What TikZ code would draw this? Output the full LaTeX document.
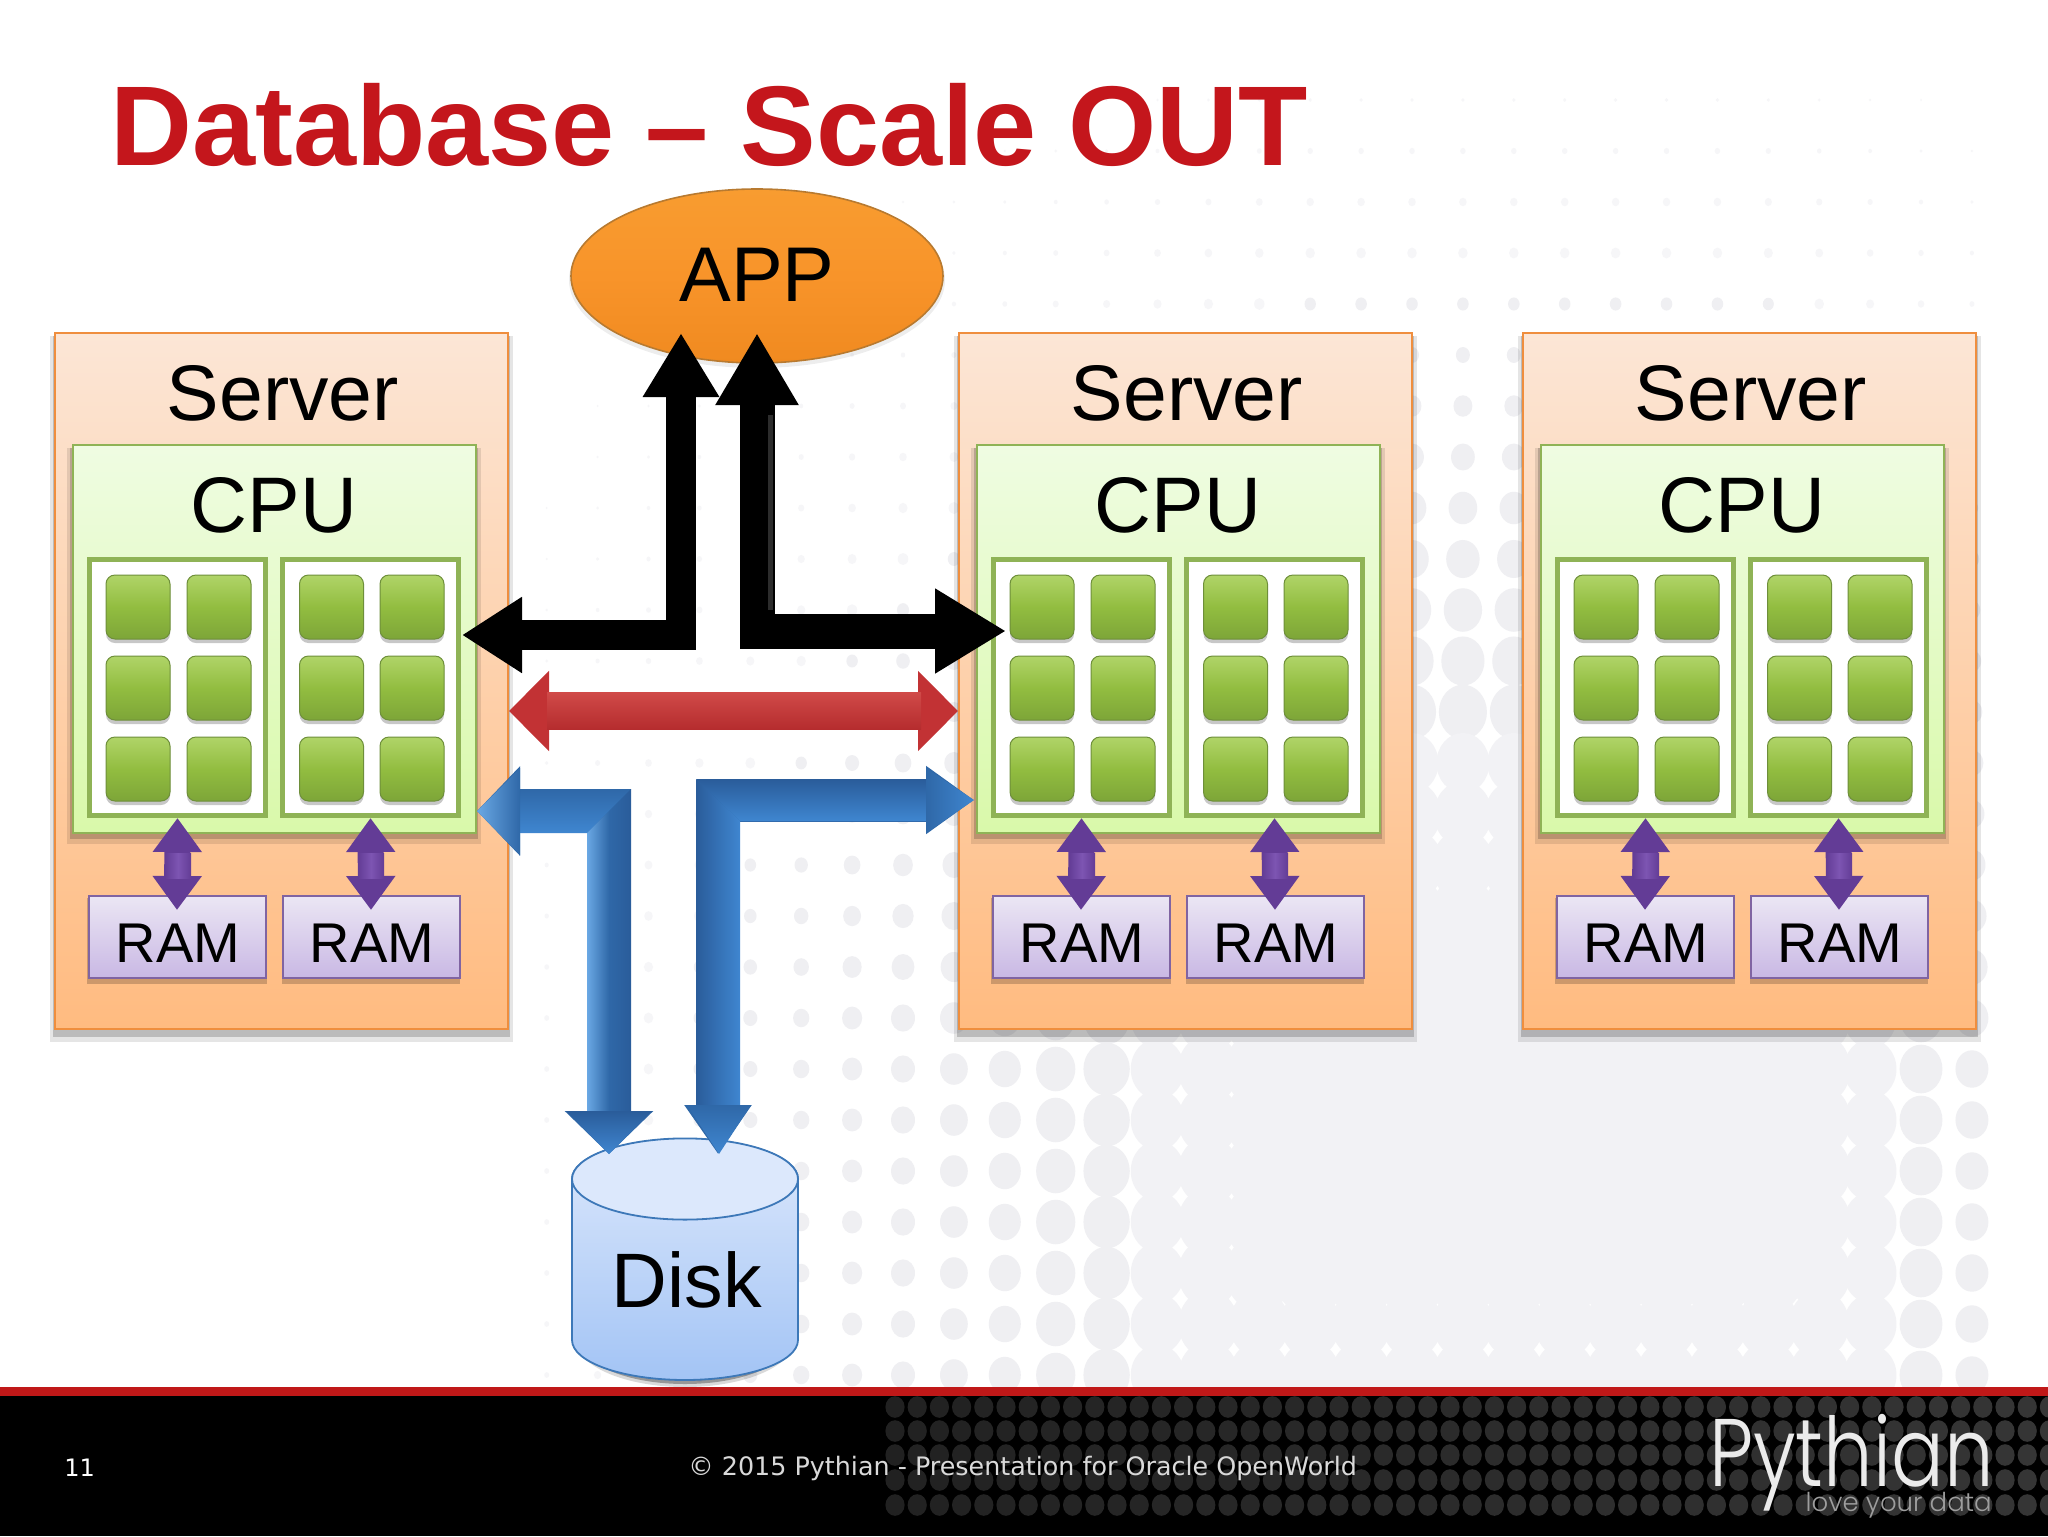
\documentclass[tikz,border=0pt]{standalone}
\usepackage{fontspec}
\usepackage{graphicx}
\setmainfont{Liberation Sans}
\newfontfamily\footfont{DejaVu Sans}
\newfontfamily\logofont{Poppins Light}
\usetikzlibrary{arrows.meta,shapes.geometric,calc}
\definecolor{titlered}{HTML}{C4161C}
\definecolor{barred}{HTML}{C01818}
\definecolor{srvtop}{HTML}{FCE6D6}
\definecolor{srvbot}{HTML}{FFBB80}
\definecolor{srvline}{HTML}{EF8E3E}
\definecolor{cputop}{HTML}{EFFCE2}
\definecolor{cpubot}{HTML}{D9F9AA}
\definecolor{olive}{HTML}{8FB356}
\definecolor{chipa}{HTML}{B0D468}
\definecolor{chipb}{HTML}{92BD40}
\definecolor{chipc}{HTML}{7DA538}
\definecolor{chipl}{HTML}{6E8F3A}
\definecolor{ramtop}{HTML}{EBE6F4}
\definecolor{rambot}{HTML}{C9B8E4}
\definecolor{ramline}{HTML}{8064A2}
\definecolor{pur}{HTML}{633C96}
\definecolor{purh}{HTML}{7D55B2}
\definecolor{redm}{HTML}{C23234}
\definecolor{redh}{HTML}{D04A48}
\definecolor{redd}{HTML}{B52C2E}
\definecolor{bluem}{HTML}{2F68A8}
\definecolor{blued}{HTML}{2A5C9A}
\definecolor{blueh}{HTML}{3F86D0}
\definecolor{bluel}{HTML}{6AA8E4}
\definecolor{disktop}{HTML}{DCE8FC}
\definecolor{diskbot}{HTML}{A3C4F5}
\definecolor{diskline}{HTML}{3D78B8}
\definecolor{apptop}{HTML}{F89C30}
\definecolor{appmid}{HTML}{F8942A}
\definecolor{appbot}{HTML}{F08A20}
\definecolor{appline}{HTML}{B87A30}
\definecolor{bevel}{HTML}{2C2C2C}
\definecolor{dotfaint}{HTML}{F6F6F8}
\definecolor{dotmid}{HTML}{EFEFF2}
\definecolor{dotbig}{HTML}{F2F2F5}
\tikzset{
  srv/.style={rectangle,draw=srvline,line width=1pt,top color=srvtop,bottom color=srvbot,minimum width=226.5pt,minimum height=348pt,inner sep=0pt},
  cpu/.style={rectangle,draw=olive,line width=1pt,top color=cputop,bottom color=cpubot,minimum width=201.5pt,minimum height=194pt,inner sep=0pt},
  core/.style={rectangle,draw=olive,line width=2.5pt,fill=white,minimum width=88pt,minimum height=128pt,inner sep=0pt},
  chip/.style={rectangle,rounded corners=4.5pt,draw=chipl,line width=.5pt,top color=chipa,bottom color=chipc,middle color=chipb,minimum width=32pt,minimum height=32pt,inner sep=0pt},
  ram/.style={rectangle,draw=ramline,line width=1pt,top color=ramtop,bottom color=rambot,minimum width=88.5pt,minimum height=41pt,inner sep=0pt},
  lab/.style={anchor=base,text=black,inner sep=0pt,font=\fontsize{39.4}{44}\selectfont},
  ramlab/.style={anchor=base,text=black,inner sep=0pt,font=\fontsize{28}{32}\selectfont},
  pu/.style={draw=pur,line width=13pt,{Triangle[length=17pt,width=23.5pt,color=pur]}-{Triangle[length=17pt,width=23.5pt,color=pur]}},
  bk1/.style={draw=black,line width=15pt,{Triangle[length=30pt,width=36pt]}-{Triangle[length=32pt,width=36pt]}},
  bk2/.style={draw=black,line width=17.5pt,{Triangle[length=36pt,width=39pt]}-{Triangle[length=35.5pt,width=40pt]}},
  rd/.style={draw=redm,line width=18.5pt,{Triangle[length=20pt,width=39pt,color=redm]}-{Triangle[length=20pt,width=39pt,color=redm]}},
  bl1/.style={draw=bluem,line width=22pt,{Triangle[length=21.5pt,width=43.5pt,color=bluem]}-{Triangle[length=21.5pt,width=43pt,color=bluem]}},
  bl2/.style={draw=bluem,line width=21.5pt,{Triangle[length=24.5pt,width=32pt,color=bluem]}-{Triangle[length=24pt,width=32.5pt,color=bluem]}},
}
\newcommand{\softshad}[5]{%
  \fill[black,opacity=.10] (#1-5,#2+3) rectangle (#3+5,#4+#5+5);
  \fill[black,opacity=.18] (#1-2,#2+3) rectangle (#3+2,#4+#5);
}
\begin{document}
\begin{tikzpicture}[x=.5pt,y=-.5pt]
\useasboundingbox (0,0) rectangle (2048,1536);
% page background and halftone dots
\fill[white] (0,0) rectangle (2048,1536);
\begin{scope}
\clip (0,0) rectangle (2048,1390);
\foreach \c in {0,...,40}{
  \foreach \r in {0,...,26}{
    \pgfmathsetmacro\xx{1412+50.9*(\c-27)}
    \pgfmathsetmacro\yy{100+51*\r}
    \pgfmathsetmacro\gx{\xx<500?0:(\xx>2005?0:(\xx>1750?0.8-(\xx-1750)*0.00205:(\xx<800?0.03+(\xx-500)*0.000467:(\xx<1000?0.17+(\xx-800)*0.0008:min(0.8,0.33+(\xx-1000)*0.00148)))))}
    \pgfmathsetmacro\hy{\yy<350?0.04+(\yy-100)*0.00048:min(0.9,0.16+(\yy-350)*0.00113)}
    \pgfmathsetmacro\cp{\yy>1300?34:42}
    \pgfmathsetmacro\rr{min(\cp,60*\gx*\hy)}
    \ifdim\rr pt>1pt
      \ifdim\rr pt<6pt
        \fill[dotfaint] (\xx,\yy) ellipse [x radius={\rr*0.44pt},y radius={\rr*0.5pt}];
      \else
        \ifdim\rr pt<29pt
          \fill[dotmid] (\xx,\yy) ellipse [x radius={\rr*0.44pt},y radius={\rr*0.5pt}];
        \else
          \fill[dotbig] (\xx,\yy) ellipse [x radius={\rr*0.44pt},y radius={\rr*0.5pt}];
        \fi
      \fi
    \fi
  }
}
\end{scope}
% footer
\fill[black] (0,1396) rectangle (2048,1536);
\foreach \c in {0,...,52}{
  \foreach \yy in {1407,1431,1455,1480,1505}{
    \pgfmathsetmacro\xx{895+22.2*\c}
    \pgfmathsetmacro\pp{13+8*(\xx-895)/1153}
    \fill[fill=white!\pp!black] (\xx,\yy) ellipse [x radius=4.8pt,y radius=5.4pt];
  }
}
\fill[barred] (0,1387) rectangle (2048,1396);
\node[anchor=base west,inner sep=0pt,text=white,font=\footfont\fontsize{12}{14}\selectfont] (pagenum) at (64,1476) {11};
\node[anchor=base west,inner sep=0pt,text=white!85!black,font=\footfont\fontsize{12.7}{14}\selectfont] (copy) at (688,1475) {© 2015 Pythian - Presentation for Oracle OpenWorld};
\node[anchor=base east,inner sep=0pt,text=white!92!black,font=\logofont\fontsize{48}{50}\selectfont] (logo) at (1994,1486) {\scalebox{.815}[1]{Pythian}};
\node[anchor=base east,inner sep=0pt,text=white!62!black,font=\logofont\fontsize{13}{15}\selectfont] (tagline) at (1992,1511) {love your data};
% title
\node[anchor=base west,inner sep=0pt,text=titlered,font=\bfseries\fontsize{56.7}{60}\selectfont] (title) at (110,165) {Database – Scale OUT};
% servers
\foreach \i/\dx in {1/0,2/904,3/1468}{
  \begin{scope}[xshift=\dx*0.5pt]
    \softshad{55}{333}{508}{1028}{9}
    \node[srv] (srv\i) at (281.5,680.5) {};
    \node[lab] (srvt\i) at (283,420) {Server};
    \softshad{72}{445}{476}{833}{6}
    \node[cpu] (cpu\i) at (274,639) {};
    \node[lab] (cput\i) at (274,532) {CPU};
    \node[core] (corea\i) at (177.5,687.5) {};
    \node[core] (coreb\i) at (370.5,687.5) {};
    \foreach \n/\xc in {a/138,b/219,c/331.5,d/412}{
      \foreach \yc in {607,688,769}{
        \fill[black,opacity=.22,rounded corners=4.5pt] (\xc-32,\yc-30) rectangle (\xc+32,\yc+36);
        \node[chip] (chip\i\n\yc) at (\xc,\yc) {};
      }
    }
    \fill[black,opacity=.2] (87,898) rectangle (267,984);
    \fill[black,opacity=.2] (282,898) rectangle (460,984);
    \node[ram] (rama\i) at (177,937) {};
    \node[ram] (ramb\i) at (371,937) {};
    \node[ramlab] (ramta\i) at (178,962) {RAM};
    \node[ramlab] (ramtb\i) at (372,962) {RAM};
    \draw[pu] (corea\i.south) -- ([yshift=-7.5pt]rama\i.north);
    \draw[pu] (coreb\i.south) -- ([yshift=-7.5pt]ramb\i.north);
    \shade[left color=pur,right color=pur,middle color=purh] (165,853) rectangle (191,878);
    \shade[left color=pur,right color=pur,middle color=purh] (358,853) rectangle (384,878);
  \end{scope}
}
% application
\fill[black,opacity=.07] (757,280) ellipse [x radius=94pt,y radius=44pt];
\node[ellipse,draw=appline,line width=.8pt,top color=apptop,bottom color=appbot,middle color=appmid,minimum width=186pt,minimum height=87pt,inner sep=0pt] (app) at (757,276) {};
\node[lab,font=\fontsize{38.8}{44}\selectfont] (appt) at (757,301) {APP};
% disk
\fill[black,opacity=.15] (576,1300) -- (576,1340) arc[start angle=180,end angle=360,x radius=54.5pt,y radius=23.5pt] -- (794,1300) -- cycle;
\fill[black,opacity=.3] (580,1300) -- (580,1340) arc[start angle=180,end angle=360,x radius=52.5pt,y radius=22pt] -- (790,1300) -- cycle;
\path[draw=diskline,line width=.9pt,top color=disktop,bottom color=diskbot] (572,1179) -- (572,1340) arc[start angle=180,end angle=360,x radius=56.5pt,y radius=20pt] -- (798,1179) arc[start angle=0,end angle=180,x radius=56.5pt,y radius=20pt] -- cycle;
\draw[draw=diskline,line width=.9pt,fill=disktop] (685,1179) ellipse [x radius=56.5pt,y radius=20.3pt];
\node[lab,font=\fontsize{38.6}{44}\selectfont] (disk) at (687,1307) {Disk};
% connectors
\coordinate (bkL) at (462,635);
\coordinate (bkU) at (681,333);
\coordinate (bkV) at (757,333);
\coordinate (bkR) at (1006,631);
\coordinate (rdy) at (700,711);
\coordinate (blL) at (477,811);
\coordinate (blD) at (609,1154);
\coordinate (blR) at (974,800);
\coordinate (blE) at (718,1154);
\draw[bk1] (bkL) -| (bkU);
\draw[bk2] (bkV) |- (bkR);
\draw[bevel,line width=2.5pt] (770,415) -- (770,610);
\draw[rd] (srv1.east |- rdy) -- (srv2.west |- rdy);
\shade[top color=redh,bottom color=redd] (547,692.5) rectangle (921,729.5);
\draw[bl1] (blL) -| (blD);
\draw[bl2] (blE) |- (blR);
\shade[top color=bluem,bottom color=blueh] (520,789) -- (631,789) -- (587,833) -- (520,833) -- cycle;
\shade[left color=bluel,right color=blued,middle color=bluem] (587,833) -- (631,789) -- (631,1112) -- (587,1112) -- cycle;
\shade[top color=blued,bottom color=blueh] (696,779) -- (927,779) -- (927,821) -- (740,821) -- cycle;
\shade[left color=blued,right color=blueh] (696,779) -- (740,821) -- (740,1106) -- (696,1106) -- cycle;
\shade[top color=blued,bottom color=blueh] (566,1111) -- (652,1111) -- (609,1154) -- cycle;
\shade[top color=bluem,bottom color=blueh] (687,1105) -- (751,1105) -- (719,1154) -- cycle;
\shade[left color=bluel,right color=bluem] (477,811) -- (520,768) -- (520,855) -- cycle;
\shade[left color=bluem,right color=blueh] (926,768) -- (974,800) -- (926,833) -- cycle;
\end{tikzpicture}
\end{document}
